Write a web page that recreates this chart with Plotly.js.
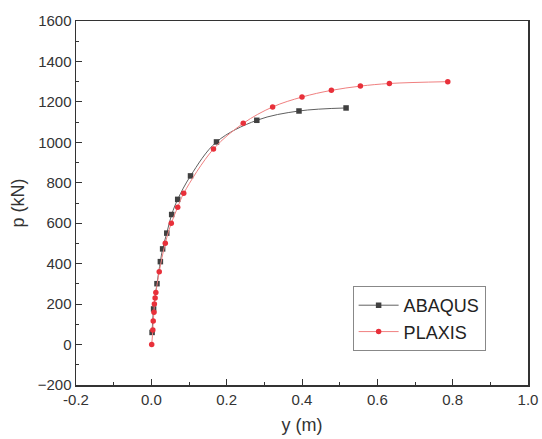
<!DOCTYPE html>
<html>
<head>
<meta charset="utf-8">
<script src="https://cdn.plot.ly/plotly-3.0.1.min.js"></script>
<style>html,body{margin:0;padding:0;background:#fff;}#chart{width:542px;height:439px;}</style>
</head>
<body>
<div id="chart"></div>
<script>
const abaqusY = [0.002, 0.006, 0.015, 0.024, 0.030, 0.041, 0.054, 0.070, 0.104, 0.173, 0.280, 0.392, 0.517];
const abaqusP = [60, 176, 301, 410, 473, 551, 643, 718, 834, 1002, 1109, 1155, 1170];
const plaxisY = [0.001, 0.004, 0.005, 0.007, 0.008, 0.010, 0.012, 0.021, 0.037, 0.053, 0.070, 0.086, 0.165, 0.244, 0.322, 0.400, 0.478, 0.555, 0.632, 0.787];
const plaxisP = [0, 72, 117, 160, 200, 230, 257, 360, 501, 600, 679, 748, 967, 1094, 1175, 1224, 1257, 1278, 1291, 1300];
const xTicks = [-0.2, 0.0, 0.2, 0.4, 0.6, 0.8, 1.0];
const xTickText = ['-0.2', '0.0', '0.2', '0.4', '0.6', '0.8', '1.0'];
const yTicks = [-200, 0, 200, 400, 600, 800, 1000, 1200, 1400, 1600];

const traces = [
  {x: abaqusY, y: abaqusP, name: 'ABAQUS', type: 'scatter', mode: 'lines+markers',
   line: {color: '#606060', width: 1, shape: 'spline'},
   marker: {symbol: 'square', size: 5.5, color: '#404040'}},
  {x: plaxisY, y: plaxisP, name: 'PLAXIS', type: 'scatter', mode: 'lines+markers',
   line: {color: '#f08080', width: 1, shape: 'spline'},
   marker: {symbol: 'circle', size: 5.5, color: '#e8303a'}}
];
const axisFont = {family: 'Liberation Sans, Arial, sans-serif', size: 15, color: '#333'};
const layout = {
  width: 542, height: 439,
  margin: {l: 76, r: 14, t: 21, b: 54},
  paper_bgcolor: '#fff', plot_bgcolor: '#fff',
  showlegend: true,
  legend: {x: 0.612, y: 0.272, xanchor: 'left', yanchor: 'top', bordercolor: '#888', borderwidth: 1,
           font: {family: 'Liberation Sans, Arial, sans-serif', size: 18, color: '#222'}, bgcolor: '#fff',
           tracegroupgap: 0, itemwidth: 40},
  xaxis: {range: [-0.2, 1.0], tickvals: xTicks, ticktext: xTickText, ticks: 'inside', ticklen: 6,
          tickcolor: '#333', showline: true, linecolor: '#333', linewidth: 1.5, mirror: true,
          showgrid: false, zeroline: false, tickfont: axisFont,
          minor: {dtick: 0.1, ticks: 'inside', ticklen: 3, tickcolor: '#333', showgrid: false},
          title: {text: 'y (m)', font: {family: 'Liberation Sans, Arial, sans-serif', size: 18, color: '#333'}, standoff: 12}},
  yaxis: {range: [-200, 1600], tickvals: yTicks, ticks: 'inside', ticklen: 6,
          tickcolor: '#333', showline: true, linecolor: '#333', linewidth: 1.5, mirror: true,
          showgrid: false, zeroline: false, tickfont: axisFont,
          minor: {dtick: 100, ticks: 'inside', ticklen: 3, tickcolor: '#333', showgrid: false},
          title: {text: 'p (kN)', font: {family: 'Liberation Sans, Arial, sans-serif', size: 18, color: '#333'}, standoff: 8}}
};
Plotly.newPlot('chart', traces, layout, {displayModeBar: false, staticPlot: true});
</script>
</body>
</html>
